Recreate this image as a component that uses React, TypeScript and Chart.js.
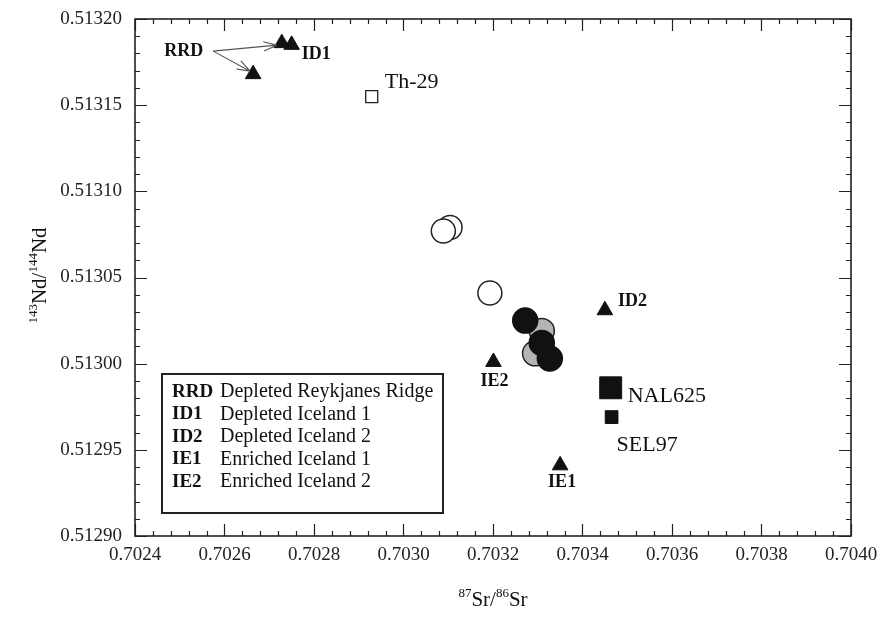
import React, { useEffect, useRef } from 'react';
import { Chart, registerables } from 'chart.js';

Chart.register(...registerables);

// ---- data ----
const xTickValues = [0.7024, 0.7026, 0.7028, 0.703, 0.7032, 0.7034, 0.7036, 0.7038, 0.704];
const yTickValues = [0.5129, 0.51295, 0.513, 0.51305, 0.5131, 0.51315, 0.5132];

const triangleSr = [0.702728, 0.70275, 0.702664, 0.70345, 0.70335, 0.703201];
const triangleNd = [0.513186, 0.513185, 0.513168, 0.513031, 0.512941, 0.513001];

const th29Sr = [0.702929];
const th29Nd = [0.513155];

const openCircleSr = [0.703104, 0.703089, 0.703193];
const openCircleNd = [0.513079, 0.513077, 0.513041];

const grayCircleSr = [0.703309, 0.703294];
const grayCircleNd = [0.513019, 0.513006];

const blackCircleSr = [0.703272, 0.703309, 0.703327];
const blackCircleNd = [0.513025, 0.513012, 0.513003];

const nal625Sr = [0.703463];
const nal625Nd = [0.512986];

const sel97Sr = [0.703465];
const sel97Nd = [0.512969];

const legendCodes = ['RRD', 'ID1', 'ID2', 'IE1', 'IE2'];
const legendNames = [
  'Depleted Reykjanes Ridge',
  'Depleted Iceland 1',
  'Depleted Iceland 2',
  'Enriched Iceland 1',
  'Enriched Iceland 2',
];

const pts = (xs: number[], ys: number[]) => xs.map((x, i) => ({ x, y: ys[i] }));

const SERIF = '"Liberation Serif", "Times New Roman", serif';
const INK = '#111';

function drawArrow(ctx: CanvasRenderingContext2D, x0: number, y0: number, x1: number, y1: number) {
  const ang = Math.atan2(y1 - y0, x1 - x0);
  const hl = 14;
  const spread = 0.34;
  ctx.beginPath();
  ctx.moveTo(x0, y0);
  ctx.lineTo(x1, y1);
  ctx.moveTo(x1, y1);
  ctx.lineTo(x1 - hl * Math.cos(ang - spread), y1 - hl * Math.sin(ang - spread));
  ctx.moveTo(x1, y1);
  ctx.lineTo(x1 - hl * Math.cos(ang + spread), y1 - hl * Math.sin(ang + spread));
  ctx.stroke();
}

const framePlugin = {
  id: 'frameTicks',
  afterDatasetsDraw(chart: any) {
    const { ctx, chartArea: a, scales } = chart;
    const xs = scales.x;
    const ys = scales.y;
    ctx.save();
    ctx.strokeStyle = '#222';
    ctx.lineWidth = 1.2;
    // x ticks
    const xMin = xTickValues[0];
    const xStep = (xTickValues[1] - xTickValues[0]) / 5;
    const nx = (xTickValues.length - 1) * 5;
    for (let i = 0; i <= nx; i++) {
      const p = Math.round(xs.getPixelForValue(xMin + i * xStep)) + 0.5;
      const len = i % 5 === 0 ? 12 : 5;
      ctx.beginPath();
      ctx.moveTo(p, a.bottom);
      ctx.lineTo(p, a.bottom - len);
      ctx.moveTo(p, a.top);
      ctx.lineTo(p, a.top + len);
      ctx.stroke();
    }
    const yMin = yTickValues[0];
    const yStep = (yTickValues[1] - yTickValues[0]) / 5;
    const ny = (yTickValues.length - 1) * 5;
    for (let i = 0; i <= ny; i++) {
      const p = Math.round(ys.getPixelForValue(yMin + i * yStep)) + 0.5;
      const len = i % 5 === 0 ? 12 : 5;
      ctx.beginPath();
      ctx.moveTo(a.left, p);
      ctx.lineTo(a.left + len, p);
      ctx.moveTo(a.right, p);
      ctx.lineTo(a.right - len, p);
      ctx.stroke();
    }
    ctx.lineWidth = 1.6;
    ctx.strokeRect(a.left, a.top, a.right - a.left, a.bottom - a.top);

    // sample annotations
    const X = (v: number) => xs.getPixelForValue(v);
    const Y = (v: number) => ys.getPixelForValue(v);
    ctx.fillStyle = INK;
    ctx.textBaseline = 'middle';

    // bold triangle labels
    ctx.font = `bold 18px ${SERIF}`;
    ctx.textAlign = 'left';
    ctx.fillText('ID1', X(triangleSr[1]) + 10, Y(triangleNd[1]) + 9);
    ctx.fillText('ID2', X(triangleSr[3]) + 13, Y(triangleNd[3]) - 9);
    ctx.textAlign = 'center';
    ctx.fillText('IE1', X(triangleSr[4]) + 2, Y(triangleNd[4]) + 17);
    ctx.fillText('IE2', X(triangleSr[5]) + 1, Y(triangleNd[5]) + 19);
    // RRD label with arrows
    const rx = X(triangleSr[2]) - 50;
    const ry = Y(triangleNd[0]) + 8;
    ctx.textAlign = 'right';
    ctx.fillText('RRD', rx, ry);
    ctx.strokeStyle = '#555';
    ctx.lineWidth = 1.1;
    drawArrow(ctx, rx + 10, ry, X(triangleSr[0]) - 5, Y(triangleNd[0]) + 2);
    drawArrow(ctx, rx + 10, ry, X(triangleSr[2]) - 3, Y(triangleNd[2]) - 3);

    // sample names
    ctx.font = `22px ${SERIF}`;
    ctx.textAlign = 'left';
    ctx.fillText('Th-29', X(th29Sr[0]) + 13, Y(th29Nd[0]) - 14);
    ctx.fillText('NAL625', X(nal625Sr[0]) + 17, Y(nal625Nd[0]) + 8);
    ctx.fillText('SEL97', X(sel97Sr[0]) + 5, Y(sel97Nd[0]) + 28);

    // legend box
    const bx = a.left + 27;
    const by = a.top + 355;
    const bw = 281;
    const bh = 139;
    ctx.fillStyle = '#fff';
    ctx.fillRect(bx, by, bw, bh);
    ctx.strokeStyle = '#222';
    ctx.lineWidth = 2;
    ctx.strokeRect(bx, by, bw, bh);
    ctx.fillStyle = INK;
    legendCodes.forEach((code, i) => {
      const ty = by + 18 + i * 22.5;
      ctx.font = `bold 19px ${SERIF}`;
      ctx.textAlign = 'left';
      ctx.fillText(code, bx + 10, ty);
      ctx.font = `20px ${SERIF}`;
      ctx.fillText(legendNames[i], bx + 58, ty);
    });

    // axis titles
    const big = `21px ${SERIF}`;
    const small = `13px ${SERIF}`;
    const parts: [string, boolean][] = [['87', true], ['Sr/', false], ['86', true], ['Sr', false]];
    const measure = (ps: [string, boolean][]) =>
      ps.reduce((w, [t, s]) => {
        ctx.font = s ? small : big;
        return w + ctx.measureText(t).width;
      }, 0);
    ctx.textBaseline = 'alphabetic';
    ctx.textAlign = 'left';
    let w = measure(parts);
    let cx = (a.left + a.right) / 2 - w / 2;
    const baseX = a.bottom + 70;
    parts.forEach(([t, s]) => {
      ctx.font = s ? small : big;
      ctx.fillText(t, cx, s ? baseX - 9 : baseX);
      cx += ctx.measureText(t).width;
    });
    const yparts: [string, boolean][] = [['143', true], ['Nd/', false], ['144', true], ['Nd', false]];
    w = measure(yparts);
    ctx.save();
    ctx.translate(46, (a.top + a.bottom) / 2 - 2);
    ctx.rotate(-Math.PI / 2);
    let cy = -w / 2;
    yparts.forEach(([t, s]) => {
      ctx.font = s ? small : big;
      ctx.fillText(t, cy, s ? -9 : 0);
      cy += ctx.measureText(t).width;
    });
    ctx.restore();
    ctx.restore();
  },
};

export default function App() {
  const ref = useRef<HTMLCanvasElement | null>(null);
  useEffect(() => {
    document.body.style.margin = '0';
    const canvas = ref.current;
    if (!canvas) return;
    const tickFont = { family: SERIF, size: 19 };
    const chart = new Chart(canvas, {
      type: 'scatter',
      data: {
        datasets: [
          {
            label: 'triangles',
            data: pts(triangleSr, triangleNd),
            pointStyle: 'triangle',
            pointRadius: 9,
            backgroundColor: INK,
            borderColor: INK,
            borderWidth: 1,
          },
          {
            label: 'Th-29',
            data: pts(th29Sr, th29Nd),
            pointStyle: 'rect',
            pointRadius: 8.5,
            backgroundColor: '#fff',
            borderColor: '#222',
            borderWidth: 1.3,
          },
          {
            label: 'black circles',
            data: pts(blackCircleSr, blackCircleNd),
            pointStyle: 'circle',
            pointRadius: 12.5,
            backgroundColor: INK,
            borderColor: INK,
            borderWidth: 1.5,
          },
          {
            label: 'gray circles',
            data: pts(grayCircleSr, grayCircleNd),
            pointStyle: 'circle',
            pointRadius: 12.5,
            backgroundColor: '#b4b4b4',
            borderColor: '#222',
            borderWidth: 1.5,
          },
          {
            label: 'open circles',
            data: pts(openCircleSr, openCircleNd),
            pointStyle: 'circle',
            pointRadius: 12,
            backgroundColor: '#fff',
            borderColor: '#222',
            borderWidth: 1.5,
          },
          {
            label: 'NAL625',
            data: pts(nal625Sr, nal625Nd),
            pointStyle: 'rect',
            pointRadius: 15.5,
            backgroundColor: INK,
            borderColor: INK,
            borderWidth: 1,
          },
          {
            label: 'SEL97',
            data: pts(sel97Sr, sel97Nd),
            pointStyle: 'rect',
            pointRadius: 9,
            backgroundColor: INK,
            borderColor: INK,
            borderWidth: 1,
          },
        ],
      },
      options: {
        responsive: false,
        animation: false,
        devicePixelRatio: 1,
        layout: { padding: { top: 19, right: 33, left: 0, bottom: 0 } },
        plugins: { legend: { display: false }, tooltip: { enabled: false } },
        scales: {
          x: {
            type: 'linear',
            min: xTickValues[0],
            max: xTickValues[xTickValues.length - 1],
            grid: { display: false, drawTicks: false },
            border: { display: false },
            afterBuildTicks: (s: any) => {
              s.ticks = xTickValues.map((v) => ({ value: v }));
            },
            afterFit: (s: any) => {
              s.height = 87;
              s.paddingLeft = 0;
              s.paddingRight = 0;
            },
            ticks: {
              font: tickFont,
              color: '#222',
              padding: 8,
              maxRotation: 0,
              autoSkip: false,
              callback: (v: any) => Number(v).toFixed(4),
            },
          },
          y: {
            type: 'linear',
            min: yTickValues[0],
            max: yTickValues[yTickValues.length - 1],
            grid: { display: false, drawTicks: false },
            border: { display: false },
            afterBuildTicks: (s: any) => {
              s.ticks = yTickValues.map((v) => ({ value: v }));
            },
            afterFit: (s: any) => {
              s.width = 135;
              s.paddingTop = 0;
              s.paddingBottom = 0;
            },
            ticks: {
              font: tickFont,
              color: '#222',
              padding: 13,
              autoSkip: false,
              callback: (v: any) => Number(v).toFixed(5),
            },
          },
        },
      },
      plugins: [framePlugin],
    } as any);
    return () => chart.destroy();
  }, []);
  return (
    <div style={{ width: 884, height: 623, background: '#fff' }}>
      <canvas ref={ref} width={884} height={623} style={{ display: 'block' }} />
    </div>
  );
}
